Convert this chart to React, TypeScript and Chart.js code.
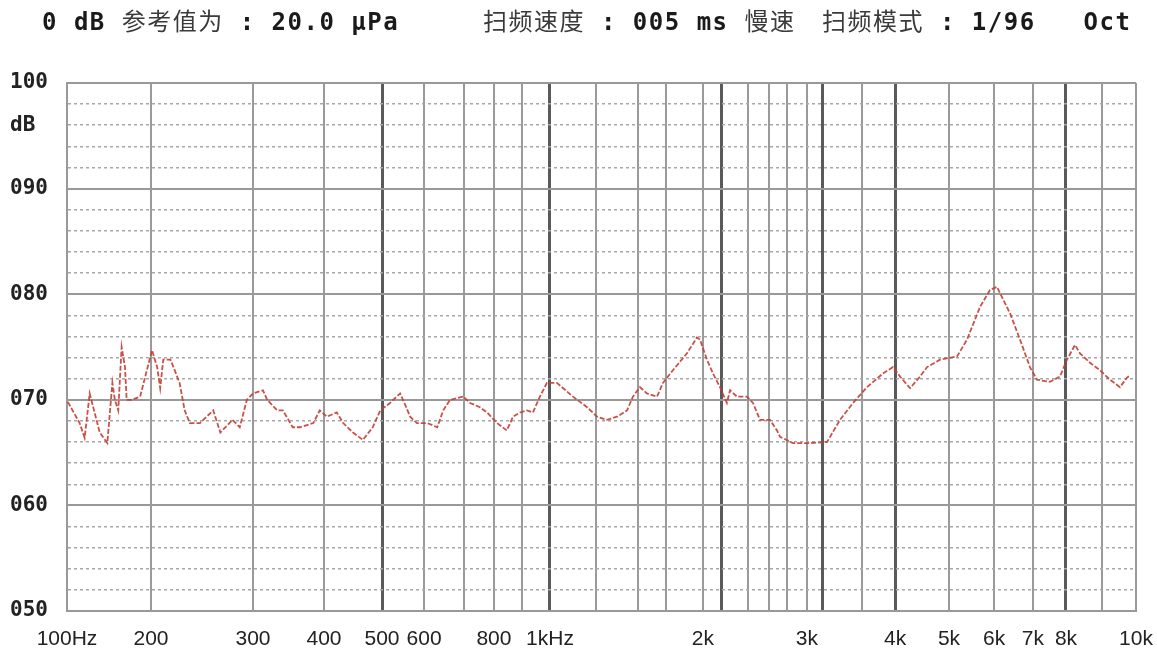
import React, { useEffect, useRef } from 'react';
import { Chart, registerables, LinearScale } from 'chart.js';

Chart.register(...registerables);

// ---- data ----
const FREQ_HZ = [
  101, 115, 121, 127, 139, 148, 154, 157, 161, 165, 169, 171, 177, 187, 201, 206, 209, 212, 219, 222,
  228, 233, 238, 248, 261, 268, 280, 287, 294, 300, 314, 320, 334, 342, 356, 366, 385, 394, 405, 422,
  433, 450, 467, 484, 497, 519, 543, 550, 567, 583, 608, 633, 648, 665, 698, 720, 753, 777, 811, 846,
  868, 893, 918, 939, 964, 989, 1038, 1125, 1201, 1256, 1315, 1375, 1435, 1470, 1518, 1580, 1670, 1723, 1797, 1892,
  1959, 1980, 2042, 2105, 2179, 2238, 2262, 2315, 2392, 2448, 2514, 2611, 2689, 2722, 2860, 3040, 3250, 3380, 3510, 3661,
  3855, 3976, 4093, 4278, 4463, 4593, 4833, 5178, 5400, 5689, 5911, 6077, 6154, 6410, 6667, 6923, 7121, 7515, 7818, 8028,
  8250, 8389, 8667, 8944, 9235, 9529, 9735, 9824,
];
const LEVEL_DB = [
  69.8, 67.8, 66.4, 70.6, 66.9, 65.9, 71.6, 70.0, 69.0, 75.0, 73.1, 70.0, 70.0, 70.3, 74.7, 73.1, 71.1, 73.8, 73.8, 73.1,
  71.6, 69.0, 67.8, 67.8, 69.0, 66.9, 68.1, 67.4, 70.0, 70.6, 70.9, 70.0, 69.0, 69.0, 67.4, 67.4, 67.8, 69.0, 68.4, 68.8,
  67.8, 66.9, 66.2, 67.4, 69.0, 69.7, 70.6, 70.0, 68.4, 67.8, 67.8, 67.4, 69.0, 70.0, 70.3, 69.7, 69.3, 68.8, 67.8, 67.1,
  68.4, 68.8, 69.0, 68.8, 70.3, 71.6, 71.6, 70.3, 69.3, 68.4, 68.1, 68.4, 69.0, 70.3, 71.2, 70.6, 70.3, 71.6, 72.8, 74.4,
  75.9, 75.7, 73.8, 72.5, 71.2, 69.7, 70.9, 70.3, 70.3, 69.7, 68.1, 68.1, 67.1, 66.5, 65.9, 65.9, 66.0, 68.1, 69.7, 71.2,
  72.5, 73.1, 72.2, 71.1, 72.2, 73.1, 73.8, 74.1, 75.7, 78.8, 80.4, 80.7, 80.1, 78.2, 75.7, 73.1, 71.9, 71.7, 72.2, 73.8,
  75.2, 74.4, 73.5, 72.8, 71.9, 71.2, 72.1, 72.3,
];

// grid-line frequencies of the analyser's x axis
const GRID_FREQS = [
  100, 200, 300, 400, 500, 600, 700, 800, 900, 1000, 1250, 1500, 1750, 2000, 2200, 2400, 2600, 2800,
  3000, 3200, 3600, 4000, 5000, 6000, 7000, 8000, 9000, 10000,
];
const BOLD_FREQS = [500, 1000, 2200, 3200, 4000, 8000];
const TICK_LABELS: Record<number, string> = {
  100: '100Hz', 200: '200', 300: '300', 400: '400', 500: '500', 600: '600', 800: '800',
  1000: '1kHz', 2000: '2k', 3000: '3k', 4000: '4k', 5000: '5k', 6000: '6k', 7000: '7k', 8000: '8k', 10000: '10k',
};
const Y_MIN = 50;
const Y_MAX = 100;
// header parts: [text, isCJK]
const HEADER_1: [string, boolean][] = [['0 dB ', false], ['参考值为', true], [' : 20.0 μPa', false]];
const HEADER_2: [string, boolean][] = [['扫频速度', true], [' : 005 ms ', false], ['慢速', true]];
const HEADER_3: [string, boolean][] = [['扫频模式', true], [' : 1/96   Oct', false]];

// ---- axis warp (analyser's own non-uniform frequency axis) ----
const KNOT_FRACS = [
  0, 0.0786, 0.174, 0.2404, 0.2947, 0.334, 0.3714, 0.3994, 0.4256, 0.4518, 0.4949, 0.5341, 0.5603, 0.5949,
  0.6127, 0.637, 0.6567, 0.6735, 0.6922, 0.7063, 0.7437, 0.7746, 0.8251, 0.8672, 0.9036, 0.9345, 0.9682, 1,
];

function warp(v: number): number {
  const f = GRID_FREQS;
  const p = KNOT_FRACS;
  const n = f.length;
  let i = 0;
  if (v <= f[0]) i = 0;
  else if (v >= f[n - 1]) i = n - 2;
  else {
    while (i < n - 2 && v > f[i + 1]) i++;
  }
  const t = (v - f[i]) / (f[i + 1] - f[i]);
  return p[i] + t * (p[i + 1] - p[i]);
}
function unwarp(d: number): number {
  const f = GRID_FREQS;
  const p = KNOT_FRACS;
  const n = f.length;
  let i = 0;
  if (d <= p[0]) i = 0;
  else if (d >= p[n - 1]) i = n - 2;
  else {
    while (i < n - 2 && d > p[i + 1]) i++;
  }
  const t = (d - p[i]) / (p[i + 1] - p[i]);
  return f[i] + t * (f[i + 1] - f[i]);
}

class WarpScale extends LinearScale {
  static id = 'warp';
  static defaults = { ...(LinearScale as any).defaults };
  getPixelForValue(value: number) {
    return (this as any).getPixelForDecimal(warp(value));
  }
  getValueForPixel(pixel: number) {
    return unwarp((this as any).getDecimalForPixel(pixel));
  }
}
Chart.register(WarpScale as any);

const headerStyle: React.CSSProperties = {
  position: 'absolute',
  top: 5,
  whiteSpace: 'pre',
  fontFamily: '"DejaVu Sans Mono", "Noto Sans CJK SC", monospace',
  fontWeight: 'bold',
  fontSize: 24,
  letterSpacing: 1.5,
  color: '#1a1a1a',
  lineHeight: '30px',
};
const cjkStyle: React.CSSProperties = {
  fontFamily: '"Noto Sans CJK SC", sans-serif',
  fontWeight: 'normal',
  color: '#3a3a3a',
};

function Header({ parts, left }: { parts: [string, boolean][]; left: number }) {
  return (
    <span style={{ ...headerStyle, left }}>
      {parts.map(([t, cjk], i) => (
        <span key={i} style={cjk ? cjkStyle : undefined}>
          {t}
        </span>
      ))}
    </span>
  );
}

export default function App() {
  const canvasRef = useRef<HTMLCanvasElement | null>(null);

  useEffect(() => {
    const canvas = canvasRef.current;
    if (!canvas) return;
    const chart = new Chart(canvas, {
      type: 'line',
      data: {
        datasets: [
          {
            data: FREQ_HZ.map((f, i) => ({ x: f, y: LEVEL_DB[i] })),
            borderColor: 'rgba(196, 62, 52, 0.9)',
            borderWidth: 1.8,
            borderDash: [5, 2],
            pointRadius: 0,
            tension: 0,
            fill: false,
          },
        ],
      },
      options: {
        animation: false,
        responsive: true,
        maintainAspectRatio: false,
        layout: { padding: { top: 83, left: 10, right: 21, bottom: 0 } },
        plugins: { legend: { display: false }, tooltip: { enabled: false }, title: { display: false } },
        scales: {
          x: {
            type: 'warp' as any,
            min: 100,
            max: 10000,
            afterBuildTicks: (s: any) => {
              s.ticks = GRID_FREQS.map((v) => ({ value: v }));
            },
            afterFit: (s: any) => {
              s.height = 46;
              s.paddingLeft = 0;
              s.paddingRight = 0;
            },
            ticks: {
              autoSkip: false,
              maxRotation: 0,
              minRotation: 0,
              padding: 16,
              color: '#222',
              font: { family: '"Liberation Sans", Arial, sans-serif', size: 21 },
              callback: (v: any) => TICK_LABELS[Number(v)] ?? '',
            },
            grid: {
              drawTicks: false,
              color: (ctx: any) => (ctx.tick && BOLD_FREQS.includes(ctx.tick.value) ? '#5a5a5a' : '#9a9a9a'),
              lineWidth: (ctx: any) => (ctx.tick && BOLD_FREQS.includes(ctx.tick.value) ? 3 : 2),
            },
            border: { display: true, color: '#999', width: 2 },
          },
          y: {
            type: 'linear',
            min: Y_MIN,
            max: Y_MAX,
            afterFit: (s: any) => {
              s.width = 57;
            },
            ticks: {
              stepSize: 2,
              autoSkip: false,
              crossAlign: 'far',
              padding: 8,
              color: '#222',
              font: { family: '"DejaVu Sans Mono", monospace', size: 21, weight: 'bold' },
              callback: (v: any) => {
                const n = Number(v);
                if (n % 10 === 0) return String(n).padStart(3, '0');
                if (n === 96) return 'dB';
                return '';
              },
            },
            grid: {
              drawTicks: false,
              color: (ctx: any) => (ctx.tick && ctx.tick.value % 10 === 0 ? '#999' : '#a8a8a8'),
              lineWidth: (ctx: any) => (ctx.tick && ctx.tick.value % 10 === 0 ? 2 : 1.5),
            },
            border: {
              display: true,
              color: '#999',
              width: 2,
              dash: (ctx: any) => (ctx.tick && ctx.tick.value % 10 !== 0 ? [3, 3] : []),
            } as any,
          },
        },
      } as any,
    });
    return () => chart.destroy();
  }, []);

  return (
    <div style={{ position: 'absolute', left: 0, top: 0, width: 1157, height: 657, background: '#fff' }}>
      <canvas ref={canvasRef} />
      <Header parts={HEADER_1} left={42} />
      <Header parts={HEADER_2} left={483} />
      <Header parts={HEADER_3} left={822} />
    </div>
  );
}
